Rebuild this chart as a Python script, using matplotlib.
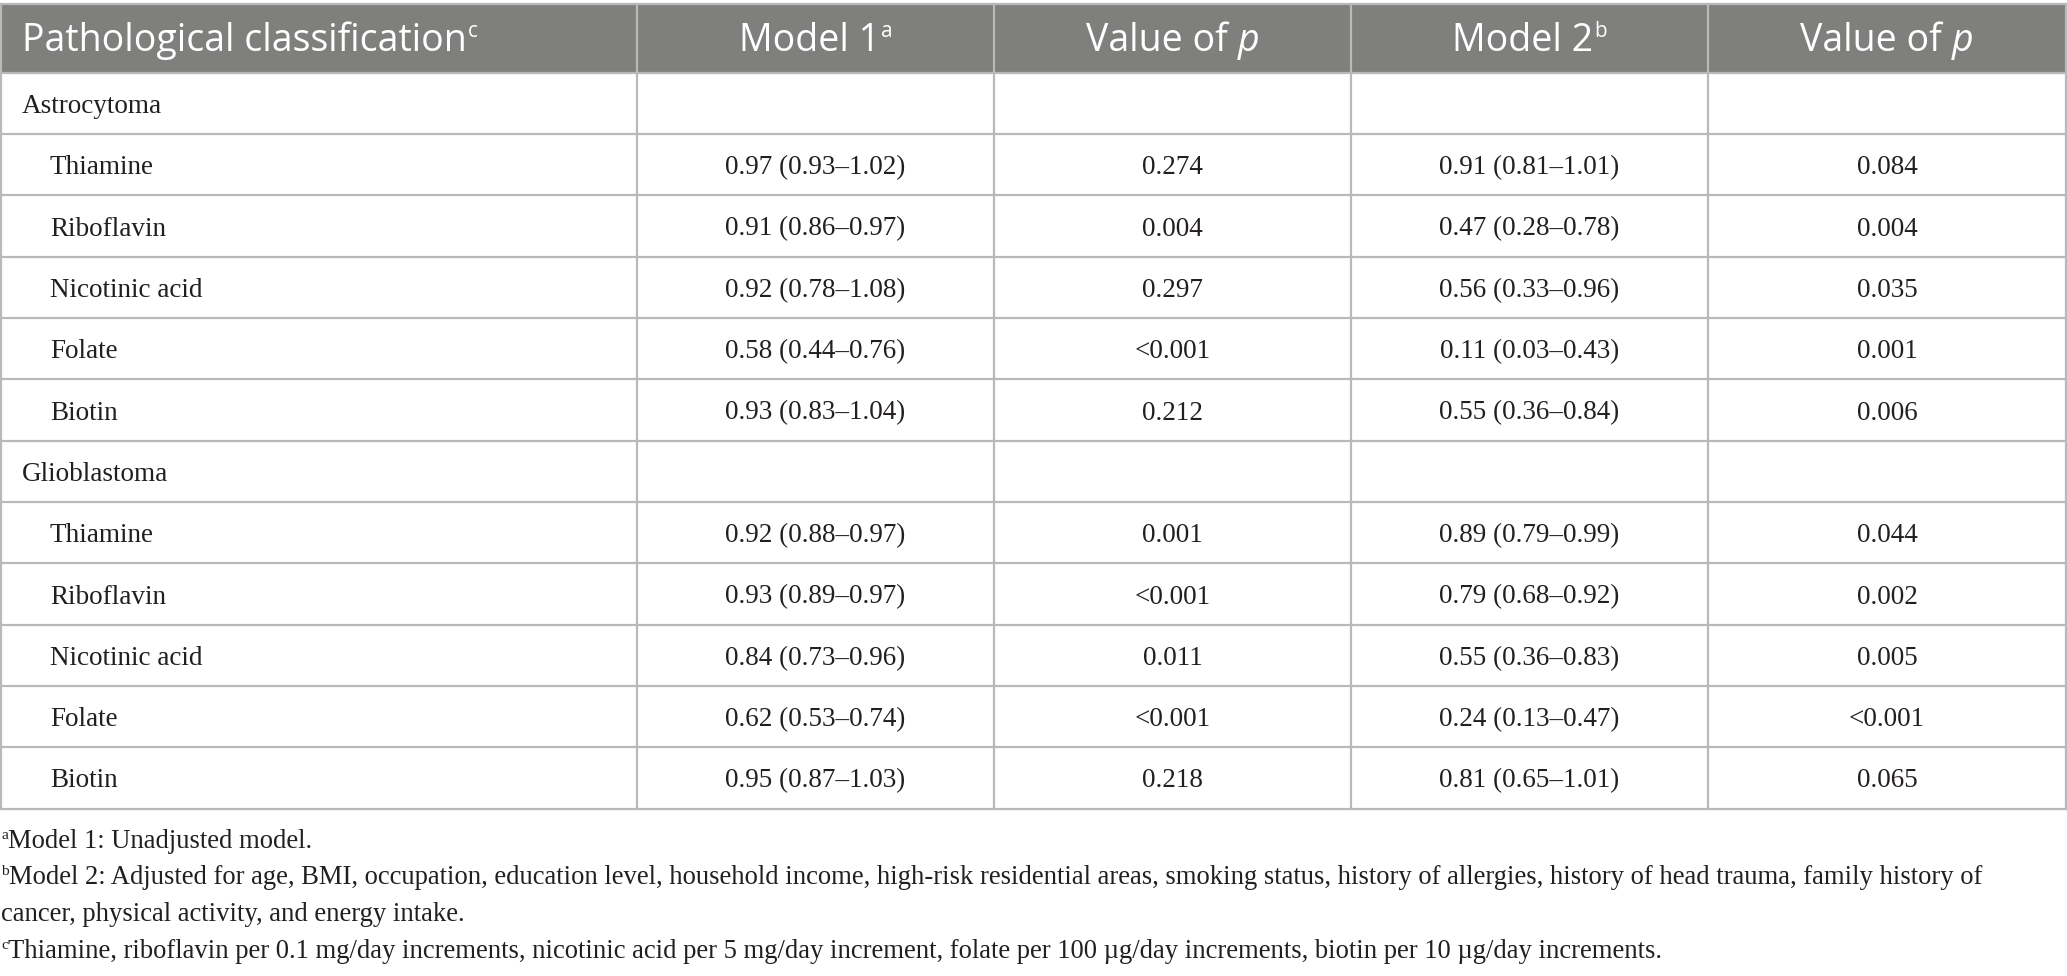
import matplotlib
matplotlib.use("Agg")
import matplotlib.pyplot as plt
from matplotlib.patches import Rectangle

# ---- table content ----
header_labels = ["Pathological classification", "Model 1", "Value of", "Model 2", "Value of"]
header_sups = ["c", "a", None, "b", None]
header_italic = [None, None, "p", None, "p"]

groups = ["Astrocytoma", "Glioblastoma"]
nutrients = ["Thiamine", "Riboflavin", "Nicotinic acid", "Folate", "Biotin"]

astro_model1 = ["0.97 (0.93–1.02)", "0.91 (0.86–0.97)", "0.92 (0.78–1.08)", "0.58 (0.44–0.76)", "0.93 (0.83–1.04)"]
astro_p1 = ["0.274", "0.004", "0.297", "<0.001", "0.212"]
astro_model2 = ["0.91 (0.81–1.01)", "0.47 (0.28–0.78)", "0.56 (0.33–0.96)", "0.11 (0.03–0.43)", "0.55 (0.36–0.84)"]
astro_p2 = ["0.084", "0.004", "0.035", "0.001", "0.006"]

glio_model1 = ["0.92 (0.88–0.97)", "0.93 (0.89–0.97)", "0.84 (0.73–0.96)", "0.62 (0.53–0.74)", "0.95 (0.87–1.03)"]
glio_p1 = ["0.001", "<0.001", "0.011", "<0.001", "0.218"]
glio_model2 = ["0.89 (0.79–0.99)", "0.79 (0.68–0.92)", "0.55 (0.36–0.83)", "0.24 (0.13–0.47)", "0.81 (0.65–1.01)"]
glio_p2 = ["0.044", "0.002", "0.005", "<0.001", "0.065"]

footnote_marks = ["a", "b", "", "c"]
footnote_lines = [
    "Model 1: Unadjusted model.",
    "Model 2: Adjusted for age, BMI, occupation, education level, household income, high-risk residential areas, smoking status, history of allergies, history of head trauma, family history of",
    "cancer, physical activity, and energy intake.",
    "Thiamine, riboflavin per 0.1 mg/day increments, nicotinic acid per 5 mg/day increment, folate per 100 µg/day increments, biotin per 10 µg/day increments.",
]

# ---- layout (pixels) ----
W, H = 2067, 976
col_edges = [1, 637, 994, 1351, 1708, 2066]
top, head_bottom, row_h = 4, 72.7, 61.33
HEAD_BG = "#7f807e"
GRID = "#b9b9b9"
INK = "#231f20"
SERIF = "Liberation Serif"
SANS = "Open Sans"
BODY_PT = 19.5
HEAD_PT = 27
NOTE_PT = 19.2

fig = plt.figure(figsize=(W / 100, H / 100), dpi=100)
ax = fig.add_axes([0, 0, 1, 1])
ax.set_xlim(0, W)
ax.set_ylim(H, 0)
ax.axis("off")
renderer = fig.canvas.get_renderer()


def draw_runs(x, y, runs, ha="center"):
    """runs: list of (text, text kwargs, rise, gap_before)"""
    artists, widths = [], []
    for s, props, rise, gap in runs:
        t = ax.text(0, y - rise, s, va="baseline", ha="left", **props)
        artists.append((t, gap))
        widths.append(t.get_window_extent(renderer).width + gap)
    total = sum(widths)
    cur = x - total / 2 if ha == "center" else x
    for (t, gap), w in zip(artists, widths):
        t.set_x(cur + gap)
        cur += w


# body rows
rows = []
for g, vals in zip(groups, [(astro_model1, astro_p1, astro_model2, astro_p2),
                            (glio_model1, glio_p1, glio_model2, glio_p2)]):
    rows.append((g, None))
    for i, n in enumerate(nutrients):
        rows.append((n, [v[i] for v in vals]))

n_rows = len(rows)
table_bottom = head_bottom + n_rows * row_h

# header background
ax.add_patch(Rectangle((col_edges[0], top), col_edges[-1] - col_edges[0], head_bottom - top,
                       facecolor=HEAD_BG, edgecolor="none", zorder=0))

# grid lines
for k in range(n_rows + 1):
    yy = head_bottom + k * row_h
    ax.plot([col_edges[0], col_edges[-1]], [yy, yy], color=GRID, lw=1.6, zorder=2)
ax.plot([col_edges[0], col_edges[-1]], [top, top], color=GRID, lw=1.6, zorder=2)
for xx in col_edges:
    ax.plot([xx, xx], [top, table_bottom], color=GRID, lw=1.6, zorder=2)

# header text
head_base = (top + head_bottom) / 2 + 13
head_kw = dict(fontsize=HEAD_PT, family=SANS, color="white")
sup_kw = dict(fontsize=HEAD_PT * 0.55, family=SANS, color="white")
for j, lab in enumerate(header_labels):
    runs = [(lab, head_kw, 0, 0)]
    if header_sups[j]:
        runs.append((header_sups[j], sup_kw, 14, 1))
    if header_italic[j]:
        runs.append((header_italic[j], dict(head_kw, style="italic"), 0, 10))
    if j == 0:
        draw_runs(22, head_base, runs, ha="left")
    else:
        draw_runs((col_edges[j] + col_edges[j + 1]) / 2, head_base, runs)

# body text
body_kw = dict(fontsize=BODY_PT, family=SERIF, color=INK)
for k, (label, vals) in enumerate(rows):
    yc = head_bottom + (k + 0.5) * row_h
    base = yc + 9.5
    if vals is None:
        ax.text(22, base, label, va="baseline", ha="left", **body_kw)
        continue
    ax.text(50, base, label, va="baseline", ha="left", **body_kw)
    for j, v in enumerate(vals):
        xc = (col_edges[j + 1] + col_edges[j + 2]) / 2
        ax.text(xc, base, v, va="baseline", ha="center", **body_kw)

# footnotes
note_kw = dict(fontsize=NOTE_PT, family=SERIF, color=INK)
note_sup = dict(fontsize=NOTE_PT * 0.58, family=SERIF, color=INK)
note_bases = [848, 884, 921, 958]
for mark, line, yb in zip(footnote_marks, footnote_lines, note_bases):
    runs = []
    if mark:
        runs.append((mark, note_sup, 9, 0))
    runs.append((line, note_kw, 0, 0))
    draw_runs(1, yb, runs, ha="left")

fig.savefig("out.png", dpi=100, facecolor="white")
